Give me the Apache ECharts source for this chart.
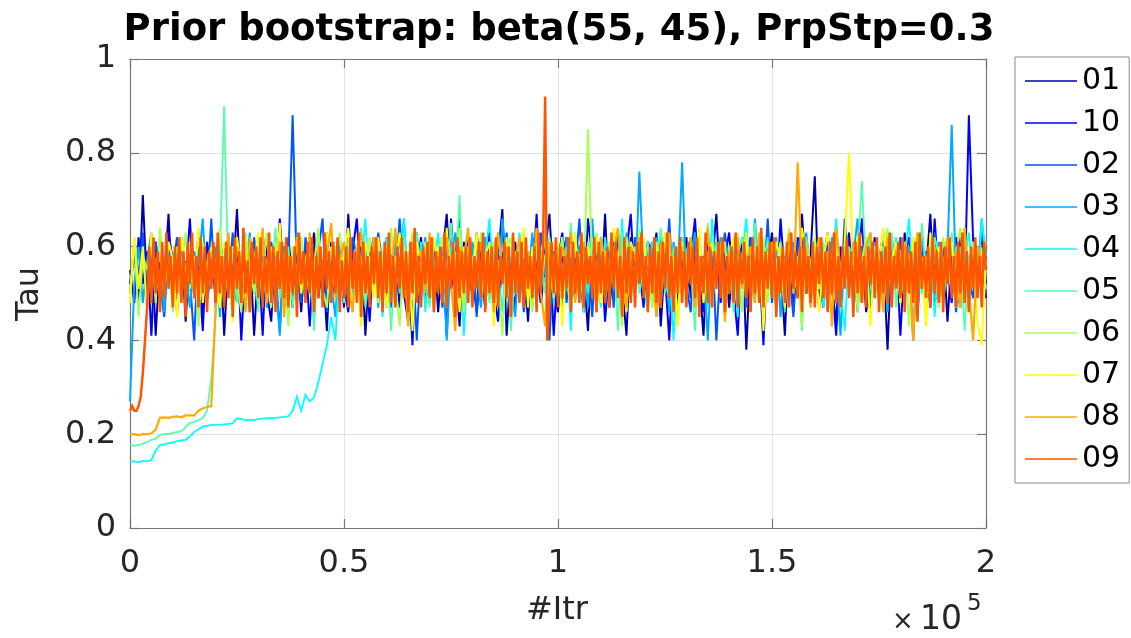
<!DOCTYPE html>
<html>
<head>
<meta charset="utf-8">
<script src="https://cdn.jsdelivr.net/npm/echarts@6/dist/echarts.min.js"></script>
<style>html,body{margin:0;padding:0;background:#fff}#c{width:1131px;height:638px}</style>
</head>
<body>
<div id="c"></div>
<script>
// Trace values.
// Series 01..08: one value per 1000 iterations; series 09 (drawn on top): one value per 500 iterations.
const seriesNames = ['01','10','02','03','04','05','06','07','08','09'];
const seriesColors = ['#0000aa','#0000ff','#0055ff','#00aaff','#00ffff','#55ffaa','#aaff55','#ffff00','#ffaa00','#ff5500'];
const ITER_STEP = 1000;
const ITER_STEP_09 = 500;
const xTicks = [0, 50000, 100000, 150000, 200000];
const yTicks = [0, 0.2, 0.4, 0.6, 0.8, 1];

const tau01 = [
.52,.60,.47,.71,.50,.62,.41,.58,.53,.67,
.48,.57,.61,.44,.59,.51,.63,.46,.56,.60,
.49,.62,.41,.58,.53,.68,.47,.55,.60,.41,
.57,.63,.50,.44,.61,.54,.48,.62,.52,.59,
.46,.60,.55,.63,.49,.57,.42,.61,.53,.58,
.47,.67,.51,.56,.60,.41,.58,.62,.49,.54,
.61,.47,.57,.63,.50,.44,.59,.55,.62,.48,
.56,.60,.46,.58,.67,.51,.55,.43,.61,.57,
.49,.63,.54,.47,.60,.52,.58,.68,.41,.56,
.61,.50,.57,.44,.62,.55,.48,.59,.67,.51,
.46,.58,.62,.53,.49,.60,.55,.42,.61,.57,
.50,.67,.47,.56,.59,.52,.41,.62,.54,.58,
.48,.61,.56,.63,.43,.57,.51,.60,.47,.55,
.62,.49,.58,.53,.41,.61,.56,.67,.50,.57,
.47,.59,.54,.62,.38,.58,.52,.60,.48,.56,
.63,.50,.57,.41,.61,.55,.49,.67,.53,.58,
.75,.47,.56,.62,.51,.44,.59,.55,.63,.48,
.57,.60,.46,.54,.62,.50,.58,.38,.61,.56,
.49,.63,.52,.57,.46,.60,.55,.67,.48,.53,
.61,.44,.58,.56,.62,.50,.47,.59,.54,.63,
.52];
const tau10 = [
.55,.48,.62,.52,.59,.41,.61,.54,.50,.63,
.57,.46,.60,.53,.66,.49,.56,.42,.61,.55,
.51,.63,.47,.58,.54,.62,.40,.57,.60,.50,
.59,.41,.62,.55,.49,.66,.52,.57,.47,.61,
.54,.58,.43,.60,.56,.50,.63,.48,.55,.62,
.52,.46,.59,.66,.51,.57,.44,.61,.55,.49,
.62,.53,.58,.47,.60,.56,.39,.63,.50,.57,
.48,.61,.55,.59,.41,.66,.52,.57,.49,.62,
.54,.46,.60,.56,.63,.50,.44,.58,.61,.53,
.47,.62,.55,.59,.51,.67,.48,.56,.60,.41,
.57,.63,.52,.49,.61,.55,.46,.66,.58,.50,
.60,.44,.56,.62,.53,.48,.59,.67,.51,.55,
.47,.61,.58,.50,.63,.54,.40,.60,.56,.62,
.49,.57,.66,.52,.46,.59,.55,.61,.48,.58,
.63,.51,.41,.60,.56,.62,.50,.57,.39,.61,
.55,.48,.66,.53,.59,.46,.62,.56,.50,.58,
.61,.47,.57,.63,.52,.41,.60,.55,.62,.49,
.56,.66,.51,.46,.59,.57,.63,.48,.55,.60,
.41,.58,.62,.53,.50,.61,.56,.47,.66,.52,
.59,.55,.48,.62,.57,.50,.88,.61,.54,.58,
.49];
const tau02 = [
.50,.59,.54,.63,.47,.58,.61,.52,.45,.60,
.56,.62,.49,.57,.53,.40,.61,.58,.51,.66,
.47,.56,.60,.52,.63,.48,.55,.59,.46,.62,
.53,.58,.49,.61,.55,.42,.60,.57,.88,.54,
.48,.62,.56,.51,.59,.66,.46,.57,.53,.60,
.55,.49,.62,.58,.45,.61,.54,.50,.63,.56,
.47,.59,.53,.66,.51,.57,.60,.40,.58,.55,
.62,.50,.56,.47,.61,.53,.58,.66,.49,.55,
.60,.45,.57,.62,.52,.48,.59,.55,.63,.51,
.57,.61,.46,.54,.60,.49,.63,.56,.40,.59,
.53,.62,.48,.57,.55,.66,.50,.58,.45,.61,
.56,.51,.60,.47,.63,.54,.58,.49,.62,.55,
.50,.57,.61,.45,.59,.53,.66,.48,.56,.60,
.52,.46,.62,.55,.58,.50,.61,.40,.57,.63,
.54,.49,.60,.56,.47,.62,.53,.58,.51,.66,
.48,.57,.61,.52,.55,.45,.60,.63,.50,.56,
.59,.53,.47,.62,.55,.58,.49,.66,.52,.57,
.46,.60,.54,.61,.50,.56,.63,.47,.58,.53,
.62,.51,.57,.40,.60,.55,.59,.48,.63,.54,
.50,.58,.61,.46,.56,.62,.53,.49,.60,.57,
.55];
const tau03 = [
.27,.52,.60,.48,.57,.63,.51,.55,.46,.61,
.58,.50,.62,.54,.47,.59,.56,.66,.49,.53,
.60,.45,.57,.62,.52,.48,.58,.55,.63,.50,
.56,.61,.47,.59,.53,.41,.60,.57,.51,.63,
.55,.49,.62,.46,.58,.54,.60,.52,.45,.61,
.57,.63,.50,.55,.48,.60,.53,.62,.47,.58,
.54,.49,.61,.56,.66,.51,.46,.59,.55,.62,
.48,.57,.53,.60,.40,.58,.63,.52,.56,.50,
.61,.55,.47,.62,.53,.58,.49,.66,.57,.51,
.45,.60,.56,.52,.63,.48,.59,.54,.61,.50,
.57,.46,.62,.55,.51,.60,.58,.47,.66,.53,
.49,.61,.56,.59,.52,.45,.63,.57,.50,.76,
.55,.60,.48,.62,.53,.57,.46,.61,.54,.78,
.51,.58,.63,.49,.56,.40,.60,.55,.62,.52,
.57,.47,.61,.54,.59,.50,.66,.53,.48,.60,
.56,.62,.45,.58,.52,.61,.49,.57,.63,.54,
.50,.59,.55,.47,.62,.56,.41,.60,.53,.58,
.66,.51,.57,.48,.61,.55,.59,.46,.62,.53,
.57,.50,.60,.55,.45,.63,.52,.58,.49,.61,
.54,.59,.86,.51,.47,.62,.56,.60,.53,.66,
.56];
const tau04 = [
.142,.142,.140,.143,.142,.145,.165,.177,.178,.181,
.182,.185,.187,.188,.195,.205,.210,.216,.218,.220,
.220,.220,.221,.222,.223,.234,.232,.230,.231,.230,
.232,.233,.234,.234,.235,.236,.237,.238,.250,.280,
.250,.284,.270,.278,.310,.350,.390,.450,.400,.57,
.52,.61,.47,.58,.55,.66,.49,.56,.60,.45,
.62,.53,.57,.50,.66,.48,.58,.54,.61,.46,
.59,.55,.63,.51,.47,.60,.56,.62,.41,.57,
.53,.61,.49,.58,.66,.52,.55,.46,.60,.57,
.50,.63,.54,.59,.47,.61,.56,.52,.62,.48,
.58,.55,.60,.42,.63,.53,.57,.50,.61,.56,
.47,.62,.54,.59,.51,.66,.48,.57,.55,.60,
.52,.46,.61,.58,.63,.50,.56,.40,.60,.54,
.59,.62,.49,.55,.57,.47,.66,.53,.60,.51,
.56,.61,.45,.58,.66,.52,.48,.59,.55,.62,
.50,.57,.60,.46,.63,.54,.58,.49,.61,.55,
.53,.62,.47,.59,.56,.66,.51,.42,.60,.57,
.61,.49,.55,.63,.52,.58,.46,.60,.54,.62,
.48,.57,.66,.53,.59,.50,.56,.61,.45,.58,
.55,.62,.51,.60,.47,.57,.63,.54,.49,.66,
.58];
const tau05 = [
.177,.175,.177,.180,.183,.188,.190,.198,.200,.200,
.203,.205,.206,.215,.224,.226,.230,.234,.250,.320,
.45,.58,.90,.52,.60,.48,.57,.63,.51,.55,
.46,.61,.56,.53,.64,.49,.58,.60,.47,.55,
.62,.51,.57,.42,.60,.54,.63,.50,.58,.56,
.48,.61,.53,.59,.64,.47,.55,.62,.50,.57,
.60,.42,.58,.54,.62,.49,.56,.63,.52,.59,
.47,.61,.55,.58,.50,.65,.53,.71,.46,.60,
.57,.62,.51,.55,.48,.59,.63,.54,.60,.42,
.56,.61,.52,.58,.47,.63,.55,.50,.62,.57,
.49,.60,.54,.65,.51,.57,.46,.61,.58,.53,
.62,.48,.56,.59,.42,.63,.52,.57,.60,.50,
.55,.61,.47,.58,.64,.53,.49,.60,.56,.62,
.51,.57,.42,.63,.54,.59,.48,.61,.55,.52,
.60,.46,.58,.62,.53,.56,.65,.49,.57,.61,
.52,.47,.60,.55,.63,.50,.58,.42,.62,.56,
.59,.53,.61,.48,.57,.64,.51,.55,.60,.46,
.58,.74,.54,.62,.49,.56,.60,.52,.63,.47,
.57,.61,.53,.59,.46,.65,.55,.50,.62,.58,
.48,.56,.63,.52,.60,.42,.57,.61,.54,.59,
.51];
const tau06 = [
.50,.62,.45,.58,.55,.61,.48,.64,.53,.57,
.46,.60,.56,.63,.51,.58,.43,.61,.55,.59,
.52,.64,.48,.57,.60,.53,.46,.62,.56,.50,
.59,.55,.63,.47,.61,.52,.57,.43,.60,.54,
.62,.49,.58,.56,.64,.51,.47,.60,.55,.63,
.53,.58,.46,.61,.57,.50,.62,.54,.48,.59,
.56,.64,.52,.43,.60,.57,.63,.49,.55,.61,
.53,.47,.59,.62,.51,.58,.55,.64,.46,.60,
.57,.52,.63,.48,.56,.61,.54,.41,.59,.62,
.50,.57,.60,.55,.46,.63,.52,.58,.61,.49,
.56,.62,.53,.47,.60,.58,.51,.85,.55,.63,
.48,.57,.61,.52,.59,.43,.62,.56,.50,.64,
.54,.58,.47,.61,.55,.63,.51,.57,.44,.60,
.56,.62,.49,.58,.53,.65,.47,.59,.55,.61,
.50,.57,.63,.46,.60,.54,.58,.52,.62,.48,
.59,.55,.61,.49,.64,.53,.57,.43,.60,.56,
.62,.51,.58,.47,.55,.63,.50,.59,.54,.61,
.46,.57,.62,.53,.60,.48,.56,.64,.52,.58,
.55,.61,.43,.59,.63,.51,.57,.54,.60,.47,
.62,.56,.50,.58,.64,.53,.46,.61,.57,.59,
.55];
const tau07 = [
.48,.62,.51,.60,.46,.63,.55,.58,.50,.61,
.57,.45,.62,.54,.59,.50,.64,.48,.56,.60,
.53,.47,.61,.58,.44,.62,.55,.59,.51,.57,
.63,.49,.56,.60,.52,.65,.47,.58,.54,.61,
.50,.57,.62,.46,.59,.55,.63,.48,.60,.53,
.58,.64,.51,.56,.43,.61,.57,.49,.62,.54,
.47,.60,.56,.63,.52,.58,.42,.61,.55,.59,
.50,.62,.57,.48,.64,.53,.59,.46,.60,.56,
.52,.63,.49,.58,.61,.43,.57,.54,.62,.50,
.59,.55,.64,.47,.60,.53,.57,.62,.49,.56,
.61,.43,.58,.54,.63,.50,.57,.60,.52,.62,
.48,.59,.55,.64,.51,.57,.46,.61,.58,.53,
.62,.50,.56,.60,.47,.63,.54,.58,.43,.61,
.55,.59,.52,.64,.48,.57,.61,.53,.60,.46,
.58,.62,.51,.56,.63,.49,.55,.60,.42,.59,
.53,.61,.57,.47,.62,.55,.50,.64,.58,.52,
.60,.46,.57,.63,.53,.59,.49,.61,.80,.55,
.62,.50,.58,.43,.60,.56,.64,.51,.57,.61,
.48,.59,.54,.62,.52,.57,.43,.63,.55,.60,
.51,.58,.61,.47,.56,.64,.53,.59,.44,.39,
.57];
const tau08 = [
.200,.200,.198,.200,.200,.202,.210,.235,.236,.235,
.237,.238,.236,.240,.240,.240,.250,.255,.258,.260,
.47,.58,.52,.63,.49,.60,.55,.46,.62,.57,
.51,.64,.48,.59,.55,.61,.45,.58,.53,.62,
.56,.50,.63,.47,.60,.54,.58,.65,.49,.57,
.61,.52,.46,.59,.63,.55,.50,.62,.57,.48,
.60,.54,.64,.51,.57,.43,.61,.56,.59,.50,
.63,.47,.58,.55,.62,.52,.42,.60,.57,.64,
.49,.56,.61,.53,.58,.46,.63,.55,.60,.51,
.57,.62,.48,.59,.54,.64,.50,.43,.61,.56,
.53,.60,.57,.63,.48,.55,.61,.52,.58,.46,
.62,.56,.50,.59,.64,.53,.47,.60,.57,.62,
.51,.58,.55,.45,.61,.57,.63,.49,.56,.60,
.53,.62,.47,.58,.55,.64,.50,.57,.61,.44,
.59,.54,.62,.51,.57,.60,.48,.63,.55,.52,
.61,.46,.58,.56,.63,.50,.78,.54,.60,.47,
.57,.62,.52,.59,.43,.64,.55,.58,.51,.61,
.56,.48,.60,.63,.53,.57,.46,.62,.55,.59,
.50,.61,.57,.40,.63,.54,.58,.52,.60,.48,
.56,.62,.53,.59,.47,.64,.51,.40,.60,.57,
.61];
const tau09 = [
.25,.26,.25,.25,.26,.28,.33,.40,.47,.60,.48,.62,.50,.59,.46,.61,.49,.63,.51,.58,
.47,.60,.50,.62,.48,.59,.45,.61,.52,.63,.49,.58,.47,.62,.50,.60,.46,.59,.51,.61,
.48,.63,.50,.58,.47,.61,.49,.60,.45,.62,.51,.59,.48,.64,.50,.57,.46,.61,.52,.60,
.49,.62,.47,.58,.50,.63,.48,.60,.46,.59,.51,.61,.49,.62,.47,.58,.50,.60,.45,.63,
.52,.59,.48,.61,.50,.62,.46,.58,.49,.60,.47,.63,.51,.59,.48,.61,.50,.62,.46,.57,
.49,.60,.47,.62,.51,.59,.48,.63,.45,.61,.50,.58,.47,.60,.52,.62,.49,.59,.46,.61,
.50,.63,.48,.58,.47,.60,.51,.62,.49,.59,.46,.61,.50,.64,.48,.58,.47,.60,.52,.61,
.49,.62,.46,.59,.50,.60,.48,.63,.47,.58,.51,.61,.45,.62,.49,.59,.50,.60,.48,.62,
.47,.58,.51,.61,.49,.63,.46,.59,.50,.60,.48,.62,.47,.58,.52,.61,.49,.60,.45,.63,
.50,.59,.48,.61,.47,.62,.51,.58,.49,.60,.46,.63,.50,.59,.92,.40,.48,.61,.50,.62,
.47,.60,.49,.58,.51,.62,.46,.61,.50,.59,.48,.63,.47,.60,.52,.58,.49,.62,.46,.61,
.50,.59,.48,.60,.47,.63,.51,.61,.49,.58,.45,.62,.50,.60,.48,.59,.47,.61,.52,.63,
.49,.58,.46,.60,.50,.62,.48,.59,.47,.61,.51,.63,.49,.58,.46,.60,.50,.62,.48,.59,
.47,.61,.52,.60,.49,.62,.45,.58,.50,.63,.48,.60,.47,.59,.51,.61,.49,.62,.46,.58,
.50,.60,.48,.63,.47,.59,.52,.61,.49,.58,.46,.62,.50,.60,.48,.64,.47,.59,.51,.61,
.49,.62,.45,.58,.50,.60,.48,.61,.47,.63,.51,.59,.49,.60,.46,.62,.50,.58,.48,.61,
.47,.60,.52,.62,.49,.59,.46,.61,.50,.63,.48,.58,.47,.60,.51,.62,.49,.59,.45,.61,
.50,.63,.48,.58,.47,.60,.52,.61,.49,.62,.46,.59,.50,.60,.48,.63,.47,.58,.51,.61,
.49,.62,.46,.60,.50,.59,.48,.61,.44,.63,.51,.58,.49,.60,.47,.62,.50,.59,.48,.61,
.46,.60,.52,.62,.49,.58,.47,.61,.50,.63,.48,.59,.46,.60,.51,.62,.49,.58,.47,.61,
.55];

const tauSeries = [tau01, tau10, tau02, tau03, tau04, tau05, tau06, tau07, tau08, tau09];
const iterSteps = [ITER_STEP, ITER_STEP, ITER_STEP, ITER_STEP, ITER_STEP, ITER_STEP, ITER_STEP, ITER_STEP, ITER_STEP, ITER_STEP_09];
const lineWidths = [2, 2, 2, 2, 1.8, 1.8, 2, 2, 2.2, 2.5];

const chart = echarts.init(document.getElementById('c'), null, {renderer: 'canvas'});
const FONT = 'DejaVu Sans';
const AXIS_COLOR = '#777777';
const TEXT_COLOR = '#262626';

const G = {left: 130, right: 145, top: 59, bottom: 110};

const series = tauSeries.map((vals, k) => ({
  name: seriesNames[k],
  type: 'line',
  xAxisIndex: 0,
  yAxisIndex: 0,
  symbol: 'none',
  showSymbol: false,
  animation: false,
  silent: true,
  clip: true,
  lineStyle: {color: seriesColors[k], width: lineWidths[k], join: 'miter', miterLimit: 4},
  itemStyle: {color: seriesColors[k]},
  data: vals.map((v, i) => [i * iterSteps[k], v])
}));

const axisCommon = {
  axisLine: {show: true, onZero: false, lineStyle: {color: AXIS_COLOR, width: 1.2}},
  axisTick: {show: true, inside: true, length: 9, lineStyle: {color: AXIS_COLOR, width: 1.2}}
};

const option = {
  backgroundColor: '#ffffff',
  animation: false,
  textStyle: {fontFamily: FONT},
  grid: G,
  xAxis: [
    Object.assign({
      type: 'value', position: 'bottom', min: xTicks[0], max: xTicks[xTicks.length - 1], interval: 50000,
      axisLabel: {show: true, color: TEXT_COLOR, fontSize: 32, fontFamily: FONT, margin: 20,
        formatter: v => String(v / 100000)},
      splitLine: {show: true, lineStyle: {color: '#e3e3e3', width: 1}}
    }, axisCommon),
    Object.assign({
      type: 'value', position: 'top', min: xTicks[0], max: xTicks[xTicks.length - 1], interval: 50000,
      axisLabel: {show: false},
      splitLine: {show: false}
    }, axisCommon)
  ],
  yAxis: [
    Object.assign({
      type: 'value', position: 'left', min: yTicks[0], max: yTicks[yTicks.length - 1], interval: 0.2,
      axisLabel: {show: true, color: TEXT_COLOR, fontSize: 32, fontFamily: FONT, margin: 14,
        formatter: v => String(Math.round(v * 10) / 10)},
      splitLine: {show: true, lineStyle: {color: '#e3e3e3', width: 1}}
    }, axisCommon),
    Object.assign({
      type: 'value', position: 'right', min: yTicks[0], max: yTicks[yTicks.length - 1], interval: 0.2,
      axisLabel: {show: false},
      splitLine: {show: false}
    }, axisCommon)
  ],
  legend: {
    show: true,
    orient: 'vertical',
    left: 1015,
    top: 57,
    data: seriesNames,
    icon: 'rect',
    itemWidth: 52,
    itemHeight: 1.5,
    itemGap: 12,
    padding: [9, 9, 9, 10],
    backgroundColor: '#ffffff',
    borderColor: '#8c8c8c',
    borderWidth: 1,
    selectedMode: false,
    textStyle: {fontSize: 30, fontFamily: FONT, color: '#000000', lineHeight: 30}
  },
  graphic: [
    {type: 'text', x: 559, y: 30, style: {
      text: 'Prior bootstrap: beta(55, 45), PrpStp=0.3', fontFamily: FONT, fontWeight: 'bold',
      fontSize: 37, fill: '#000000', align: 'center', verticalAlign: 'middle'}},
    {type: 'text', x: 30, y: 294, rotation: Math.PI / 2, style: {
      text: 'Tau', fontFamily: FONT, fontSize: 32, fill: TEXT_COLOR, align: 'center', verticalAlign: 'middle'}},
    {type: 'text', x: 557, y: 611, style: {
      text: '#Itr', fontFamily: FONT, fontSize: 32, fill: TEXT_COLOR, align: 'center', verticalAlign: 'middle'}},
    {type: 'text', x: 892, y: 622, style: {
      text: '×', fontFamily: FONT, fontSize: 26, fill: TEXT_COLOR, align: 'left', verticalAlign: 'middle'}},
    {type: 'text', x: 920, y: 620, style: {
      text: '10', fontFamily: FONT, fontSize: 33, fill: TEXT_COLOR, align: 'left', verticalAlign: 'middle'}},
    {type: 'text', x: 967, y: 604, style: {
      text: '5', fontFamily: FONT, fontSize: 23, fill: TEXT_COLOR, align: 'left', verticalAlign: 'middle'}}
  ],
  series: series
};
chart.setOption(option);
</script>
</body>
</html>
